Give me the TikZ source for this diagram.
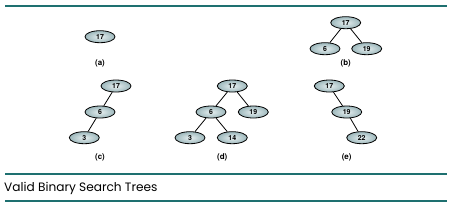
\documentclass[tikz,border=0pt]{standalone}
\usepackage{fontspec}
\setmainfont{TeX Gyre Heros}
\newfontfamily\captionfont{Poppins}
\usepackage{tikz}
\usetikzlibrary{positioning,shapes.geometric}
\definecolor{RuleTeal}{HTML}{1E7070}
\definecolor{NodeFill}{HTML}{9CB7BB}
\definecolor{NodeLight}{HTML}{E8F0F1}

\begin{document}
\begin{tikzpicture}[
  x=1bp, y=-1bp,
  treenode/.style={
    draw=black, line width=0.8pt, ellipse, inner sep=0pt,
    minimum width=30bp, minimum height=12bp,
    inner color=NodeLight, outer color=NodeFill,
    font=\fontsize{7}{8}\selectfont\bfseries
  },
  sublabel/.style={font=\fontsize{8}{9}\selectfont\bfseries},
  link/.style={draw=black, line width=0.8pt},
  rulethick/.style={draw=RuleTeal, line width=2.2pt},
  rulethin/.style={draw=RuleTeal, line width=1.2pt},
]
\useasboundingbox (0,0) rectangle (451,206);

% ---------- Rules and caption ----------
\draw[rulethick] (5,6) -- (447,6);
\draw[rulethin]  (5,174) -- (447,174);
\draw[rulethick] (5,201) -- (447,201);
\node[anchor=west, font=\captionfont\fontsize{12.2}{14}\selectfont, inner sep=0pt] (caption) at (4,188) {Valid Binary Search Trees};

% ---------- (a) ----------
\node[treenode] (a17) at (100,36.7) {17};
\node[sublabel] (la) at (100,63.3) {(a)};

% ---------- (b) ----------
\node[treenode] (b17) at (345.7,22.7) {17};
\node[treenode] (b6)  at (325,48.7) {6};
\node[treenode] (b19) at (366.7,48.7) {19};
\node[sublabel] (lb) at (345.7,63.3) {(b)};
\draw[link] (b17) -- (b6);
\draw[link] (b17) -- (b19);

% ---------- (c) ----------
\node[treenode] (c17) at (116,86) {17};
\node[treenode] (c6)  at (100,112) {6};
\node[treenode] (c3)  at (84.3,137.7) {3};
\node[sublabel] (lc) at (100,157.3) {(c)};
\draw[link] (c17) -- (c6);
\draw[link] (c6) -- (c3);

% ---------- (d) ----------
\node[treenode] (d17) at (232.3,86) {17};
\node[treenode] (d6)  at (211,112) {6};
\node[treenode] (d19) at (253.3,112) {19};
\node[treenode] (d3)  at (190,137.7) {3};
\node[treenode] (d14) at (232.3,137.7) {14};
\node[sublabel] (ld) at (222.3,157.3) {(d)};
\foreach \p/\c in {d17/d6,d17/d19,d6/d3,d6/d14}
  \draw[link] (\p) -- (\c);

% ---------- (e) ----------
\node[treenode] (e17) at (329.3,86) {17};
\node[treenode] (e19) at (346.7,112) {19};
\node[treenode] (e22) at (361.7,137.7) {22};
\node[sublabel] (le) at (346.7,157.3) {(e)};
\draw[link] (e17) -- (e19);
\draw[link] (e19) -- (e22);

\end{tikzpicture}
\end{document}
